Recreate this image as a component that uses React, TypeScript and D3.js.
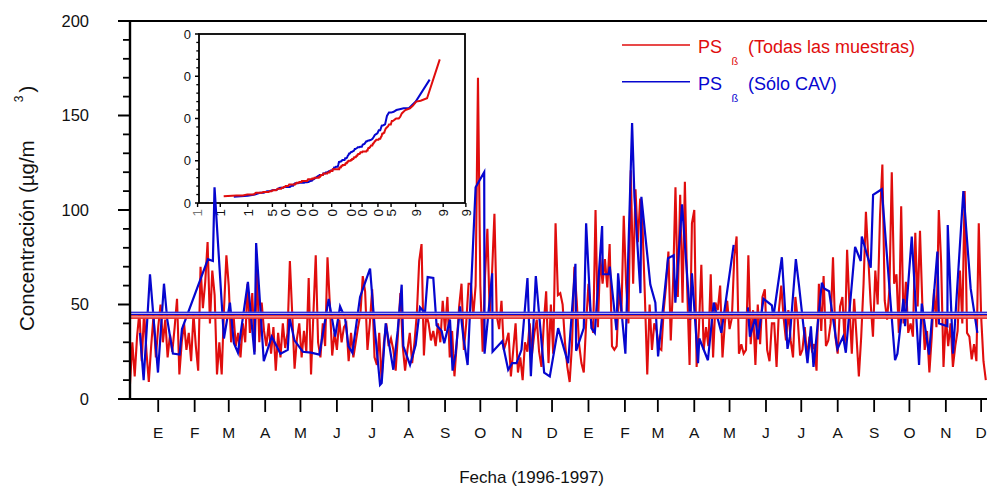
import React from "react";
import * as d3 from "d3";

// Time frame of the record (UTC days)
const START = Date.UTC(1995, 11, 8);
const END = Date.UTC(1997, 11, 6);
const DAY = 86400000;
const RED_STEP_DAYS = 2;

// PSß, all samples: one value every RED_STEP_DAYS days from START (µg/m3)
const redValues: number[] = [
  8, 30, 12, 33, 46, 20, 46, 25, 9, 28, 44, 22, 38, 50, 30, 42, 22, 34, 25, 38,
  53, 13, 30, 40, 26, 35, 20, 45, 28, 15, 70, 48, 62, 83, 40, 68, 55, 13, 30, 13,
  48, 76, 60, 30, 45, 28, 35, 22, 40, 30, 61, 35, 56, 25, 68, 30, 51, 36, 28, 40,
  24, 38, 15, 35, 22, 40, 27, 35, 73, 45, 16, 32, 40, 22, 36, 25, 64, 13, 45, 76,
  30, 22, 40, 28, 75, 50, 23, 35, 26, 42, 30, 38,
  40, 20, 35, 22, 30, 38, 45, 65, 57, 26, 40, 58, 22, 18, 35, 10, 30, 40, 28, 32,
  26, 15, 35, 56, 28, 15, 26, 35, 19, 30, 45, 73, 82, 23, 45, 40, 31, 36, 28, 40,
  30, 52, 36, 54, 22, 36, 12, 30, 49, 61, 26, 40, 61, 61, 44, 60, 170, 60, 25, 65,
  90, 45, 67, 98, 44, 37, 52, 26, 30, 35, 12, 26, 40, 14, 22, 10, 30, 25, 40, 24,
  35, 42, 25, 17, 40, 57, 19, 50, 24, 93, 55,
  56, 50, 30, 17, 9, 29, 70, 52, 29, 19, 14, 40, 61, 42, 35, 100, 38, 75, 61, 74,
  59, 82, 28, 26, 28, 59, 45, 97, 61, 40, 121, 61, 111, 83, 106, 91, 54, 13, 50, 26,
  40, 36, 27, 26, 47, 60, 78, 31, 62, 112, 54, 108, 51, 115, 58, 18, 93, 100, 17, 38,
  71, 26, 38, 28, 66, 22, 51, 47, 60, 22, 40, 52, 37, 43, 75, 86, 24, 29, 24, 26,
  76, 29, 47, 18, 50, 29, 54, 58, 26, 20, 40,
  40, 17, 47, 60, 43, 31, 47, 31, 22, 54, 42, 23, 26, 38, 22, 33, 26, 29, 15, 61,
  36, 65, 28, 31, 40, 75, 33, 24, 49, 54, 29, 79, 49, 24, 53, 33, 12, 33, 61, 99,
  75, 51, 33, 68, 50, 97, 124, 52, 42, 58, 120, 61, 66, 35, 102, 40, 62, 35, 40, 33,
  88, 49, 89, 50, 26, 36, 14, 33, 58, 38, 100, 72, 17, 44, 28, 40, 17, 28, 36, 68,
  40, 110, 35, 33, 21, 29, 20, 93, 44, 20, 10,
];

// PSß, CAV samples only: day offset from START and value (null = no data)
const blueDays: number[] = [
  8.5, 11.6, 17, 23.8, 28.9, 31.7, 36.5, 42.2, 44.2, 66.3, 70.5, 71.9, 79.9, 85, 88.4, 91.8,
  100.3, 105.9, 107.3, 113.8, 120.6, 128, 134.2, 135.7, 139.9, 147, 154, 161.1, 169, 174.5, 178.7,
  182.9, 185.8, 189.2, 195.7, 204.2, 208.4, 212.7, 214.1, 217.5, 224, 227.7, 231.1, 232.5, 238.2,
  243, 246.7, 250.9, 253.2, 258, 260.8, 265.1, 267.3, 272.2, 274.4, 277, 280.7, 283.5, 287.2,
  294, 301.3, 301.6, 308.1, 308.4, 316.6, 321.7, 325.1, 328.8, 333, 338.1, 341, 345.2, 352.3,
  357.1, 364.2,
  372.7, 378.9, 379.5, 386, 388, 392.5, 395.4, 401.6, 402.2, 407.2, 408.1, 413.8, 415.2, 421.4,
  427.1, 429.1, 434.2, 435, 442.6, 446.9, 449.2, 457.7, 462.5, 463.9, 469.6, 476.6, 478, 483.2,
  484.3, 491.6, 496.5, 503, 513.5, 519, 525.6, 527.3, 531.9, 534.1, 538.9, 546,
  547.2, 554.5, 559.3, 561.3, 566.4, 569.2, 576.3, 579.2, 581.4, 588.5, 590.5, 594.7, 601.8,
  606.6, 608.9, 616.8, 621.6, 622.5, 630.1, 632.1, 639.5, 650.8, 652.8, 657.9, 659.3, 665,
  671.2, 673.5, 679.7, 686.8, 688.2, 695.3, 695.6, 700.1, 708.9, 715.1, 720.8,
];
const blueValues: (number | null)[] = [
  35, 10, 66, 14, 61, 42, 24, 23.5, 37, 74, 73, 112, 32, 51, 29.5, 24.5,
  62, 23.5, 82.5, 20, 33, 24, 26, 43, 31, 25, 24.5, 23.5, 53, 33, 49,
  43, 28, 24.5, 54, 69, 36, 7.5, 8.5, 40, 15.5, 36, 60.5, 28, 18,
  28.5, 48.5, 45.5, 64.5, 64, 39, 36, 29.5, 42, 15, 24, 49, 33, 18,
  112, 120, 24, 66.5, 25, 30.5, 15.5, 19, 19, 26, 64, 12, 65, 14,
  12, 37.5,
  19, 71.5, 25.5, 37.5, 93, 37.5, 35, 91.5, 66, 66, 70, 36.5, 66.5, 24,
  146, 107, 56, 107, 60.5, 51, 22.5, 74.5, 76, 51, 103, 42, 66.5, 19,
  32, 20.5, 51, 35, 81.5, null, 48.5, 33, 43, 31.5, 53, 49.5,
  43, 75, 26.5, 33, 74, 59.5, 19, 38.5, 17, 61.5, 58.5, 57, 26.5,
  33, 24.5, 80.5, 73, 86, 69.5, 108, 111, 20.5, 24, 53, 38.5, 86,
  18, 50.5, 23.5, 78, 40, 38.5, 92, 24, 110, 58.5, 35,
];

// Mean concentrations of each series
const meanAll = 43.4;
const meanCav = 45.3;

const monthLabels = ["E", "F", "M", "A", "M", "J", "J", "A", "S", "O", "N", "D"];
const yMajorTicks = [0, 50, 100, 150, 200];
const yMinorTicks = [10, 20, 30, 40, 60, 70, 80, 90, 110, 120, 130, 140, 160, 170, 180, 190];

// Normal probability inset
const probTicks = [0.01, 0.1, 1, 5, 10, 20, 30, 50, 70, 80, 90, 95, 99, 99.9, 99.99];
const probLabels = ["1", "1", "1", "5", "0", "0", "0", "0", "0", "0", "0", "5", "9", "9", "9"];
const insetYMajor = [0, 50, 100, 150, 200];
const insetYLabels = ["0", "0", "0", "0", "0"];

const RED = "#e00d0d";
const BLUE = "#0606cf";
const FONT = "'Liberation Sans', Arial, Helvetica, sans-serif";

// Inverse of the standard normal CDF (Acklam's rational approximation)
function probit(p: number): number {
  const a = [-3.969683028665376e1, 2.209460984245205e2, -2.759285104469687e2, 1.38357751867269e2, -3.066479806614716e1, 2.506628277459239];
  const b = [-5.447609879822406e1, 1.615858368580409e2, -1.556989798598866e2, 6.680131188771972e1, -1.328068155288572e1];
  const c = [-7.784894002430293e-3, -3.223964580411365e-1, -2.400758277161838, -2.549732539343734, 4.374664141464968, 2.938163982698783];
  const d = [7.784695709041462e-3, 3.224671290700398e-1, 2.445134137142996, 3.754408661907416];
  const pl = 0.02425;
  if (p < pl) {
    const q = Math.sqrt(-2 * Math.log(p));
    return (((((c[0] * q + c[1]) * q + c[2]) * q + c[3]) * q + c[4]) * q + c[5]) / ((((d[0] * q + d[1]) * q + d[2]) * q + d[3]) * q + 1);
  }
  if (p > 1 - pl) {
    const q = Math.sqrt(-2 * Math.log(1 - p));
    return -(((((c[0] * q + c[1]) * q + c[2]) * q + c[3]) * q + c[4]) * q + c[5]) / ((((d[0] * q + d[1]) * q + d[2]) * q + d[3]) * q + 1);
  }
  const q = p - 0.5;
  const r = q * q;
  return ((((((a[0] * r + a[1]) * r + a[2]) * r + a[3]) * r + a[4]) * r + a[5]) * q) / (((((b[0] * r + b[1]) * r + b[2]) * r + b[3]) * r + b[4]) * r + 1);
}

type Pt = { t: Date; v: number | null };

export default function App() {
  const x = d3.scaleUtc().domain([new Date(START), new Date(END)]).range([130, 987]);
  const y = d3.scaleLinear().domain([0, 200]).range([399, 21]);

  const redPts: Pt[] = redValues.map((v, i) => ({ t: new Date(START + i * RED_STEP_DAYS * DAY), v }));
  const bluePts: Pt[] = blueDays.map((dd, i) => ({ t: new Date(START + dd * DAY), v: blueValues[i] }));

  const line = d3
    .line<Pt>()
    .defined((p) => p.v != null)
    .x((p) => x(p.t))
    .y((p) => y(p.v as number));

  const months = d3.utcMonth.range(new Date(Date.UTC(1996, 0, 1)), new Date(Date.UTC(1997, 11, 2)));

  // inset scales
  const ix = d3.scaleLinear().domain([-3.68, 3.695]).range([199, 465]);
  const iy = d3.scaleLinear().domain([0, 200]).range([203, 34]);
  const probLine = (vals: number[]) => {
    const s = vals.slice().sort((p, q) => p - q);
    const n = s.length;
    const pts = s.map((v, i) => [ix(probit((i + 0.5) / n)), iy(v)] as [number, number]);
    return d3.line()(pts) || "";
  };
  const blueSorted = blueValues.filter((v): v is number => v != null);
  const insetMinor = d3.range(0, 201, 10).filter((v) => v % 50 !== 0);

  const meanLine = (v: number, color: string, pale: string, key: string) => (
    <g key={key}>
      <line x1={130} x2={987} y1={y(v)} y2={y(v)} stroke={pale} strokeWidth={3.4} />
      <line x1={130} x2={987} y1={y(v) - 1.15} y2={y(v) - 1.15} stroke={color} strokeWidth={1.1} />
      <line x1={130} x2={987} y1={y(v) + 1.15} y2={y(v) + 1.15} stroke={color} strokeWidth={1.1} />
    </g>
  );

  return (
    <svg
      width={987}
      height={486}
      viewBox="0 0 987 486"
      style={{ position: "absolute", left: 0, top: 0, background: "#fff" }}
      fontFamily={FONT}
    >
      <rect x={0} y={0} width={987} height={486} fill="#fff" />

      {/* inset: normal probability plot */}
      <g>
        <rect x={199} y={34} width={266} height={169} fill="none" stroke="#000" strokeWidth={1.8} />
        {insetYMajor.map((v, i) => (
          <g key={"iym" + v}>
            <line x1={195} x2={199} y1={iy(v)} y2={iy(v)} stroke="#000" strokeWidth={1.5} />
            <text x={191} y={iy(v)} dy="0.36em" textAnchor="end" fontSize={13} fill="#111">
              {insetYLabels[i]}
            </text>
          </g>
        ))}
        {insetMinor.map((v) => (
          <line key={"iyn" + v} x1={196.3} x2={199} y1={iy(v)} y2={iy(v)} stroke="#000" strokeWidth={1.3} />
        ))}
        {probTicks.map((p, i) => {
          const px = ix(probit(p / 100));
          return (
            <g key={"ipx" + i}>
              <line x1={px} x2={px} y1={203} y2={207} stroke="#000" strokeWidth={1.4} />
              <text
                transform={`translate(${px},209) rotate(-90)`}
                dy="0.36em"
                textAnchor="end"
                fontSize={13.5}
                fill={i === 0 ? "#777" : "#111"}
              >
                {probLabels[i]}
              </text>
            </g>
          );
        })}
        <path d={probLine(blueSorted)} fill="none" stroke={BLUE} strokeWidth={2} />
        <path d={probLine(redValues)} fill="none" stroke={RED} strokeWidth={2} />
      </g>

      {/* time series */}
      <path d={line(redPts) || ""} fill="none" stroke={RED} strokeWidth={2.1} strokeLinejoin="miter" />
      <path d={line(bluePts) || ""} fill="none" stroke={BLUE} strokeWidth={2.2} strokeLinejoin="miter" />

      {meanLine(meanAll, RED, "#f4b0b0", "mAll")}
      {meanLine(meanCav, BLUE, "#aeb0f2", "mCav")}

      {/* axes */}
      <line x1={118} x2={987} y1={y(200)} y2={y(200)} stroke="#000" strokeWidth={2} />
      <line x1={118} x2={987} y1={y(0)} y2={y(0)} stroke="#000" strokeWidth={2} />
      <line x1={130} x2={130} y1={y(200)} y2={y(0)} stroke="#000" strokeWidth={2.4} />
      {yMajorTicks.map((v) => (
        <g key={"ym" + v}>
          <line x1={118} x2={130} y1={y(v)} y2={y(v)} stroke="#000" strokeWidth={2} />
          <text x={89} y={y(v)} dy="0.36em" textAnchor="end" fontSize={16.5} fill="#111">
            {v}
          </text>
        </g>
      ))}
      {yMinorTicks.map((v) => (
        <line key={"yn" + v} x1={123} x2={130} y1={y(v)} y2={y(v)} stroke="#000" strokeWidth={1.8} />
      ))}
      {months.map((m, i) => (
        <g key={"mx" + i}>
          <line x1={x(m)} x2={x(m)} y1={399} y2={412} stroke="#000" strokeWidth={1.8} />
          <text x={x(m)} y={437.5} textAnchor="middle" fontSize={15.5} fill="#111">
            {monthLabels[m.getUTCMonth()]}
          </text>
        </g>
      ))}

      <text x={531.5} y={483} textAnchor="middle" fontSize={17} fill="#111">
        Fecha (1996-1997)
      </text>
      <text transform="translate(34,331) rotate(-90)" fontSize={20.5} fill="#111">
        Concentración (µg/m
        <tspan dx={38} dy={-11} fontSize={12}>
          3
        </tspan>
        <tspan dx={3} dy={11}>
          )
        </tspan>
      </text>

      {/* legend */}
      <line x1={622} x2={690} y1={45} y2={45} stroke={RED} strokeWidth={1.6} />
      <text x={698} y={53.3} fontSize={18} fill={RED}>PS</text>
      <text x={731.5} y={65} fontSize={11} fill={RED}>ß</text>
      <text x={748} y={53.3} fontSize={18} fill={RED}>(Todas las muestras)</text>

      <line x1={622} x2={690} y1={81.7} y2={81.7} stroke={BLUE} strokeWidth={1.6} />
      <text x={698} y={90} fontSize={18} fill={BLUE}>PS</text>
      <text x={731.5} y={101.5} fontSize={11} fill={BLUE}>ß</text>
      <text x={748} y={90} fontSize={18} fill={BLUE}>(Sólo CAV)</text>
    </svg>
  );
}
